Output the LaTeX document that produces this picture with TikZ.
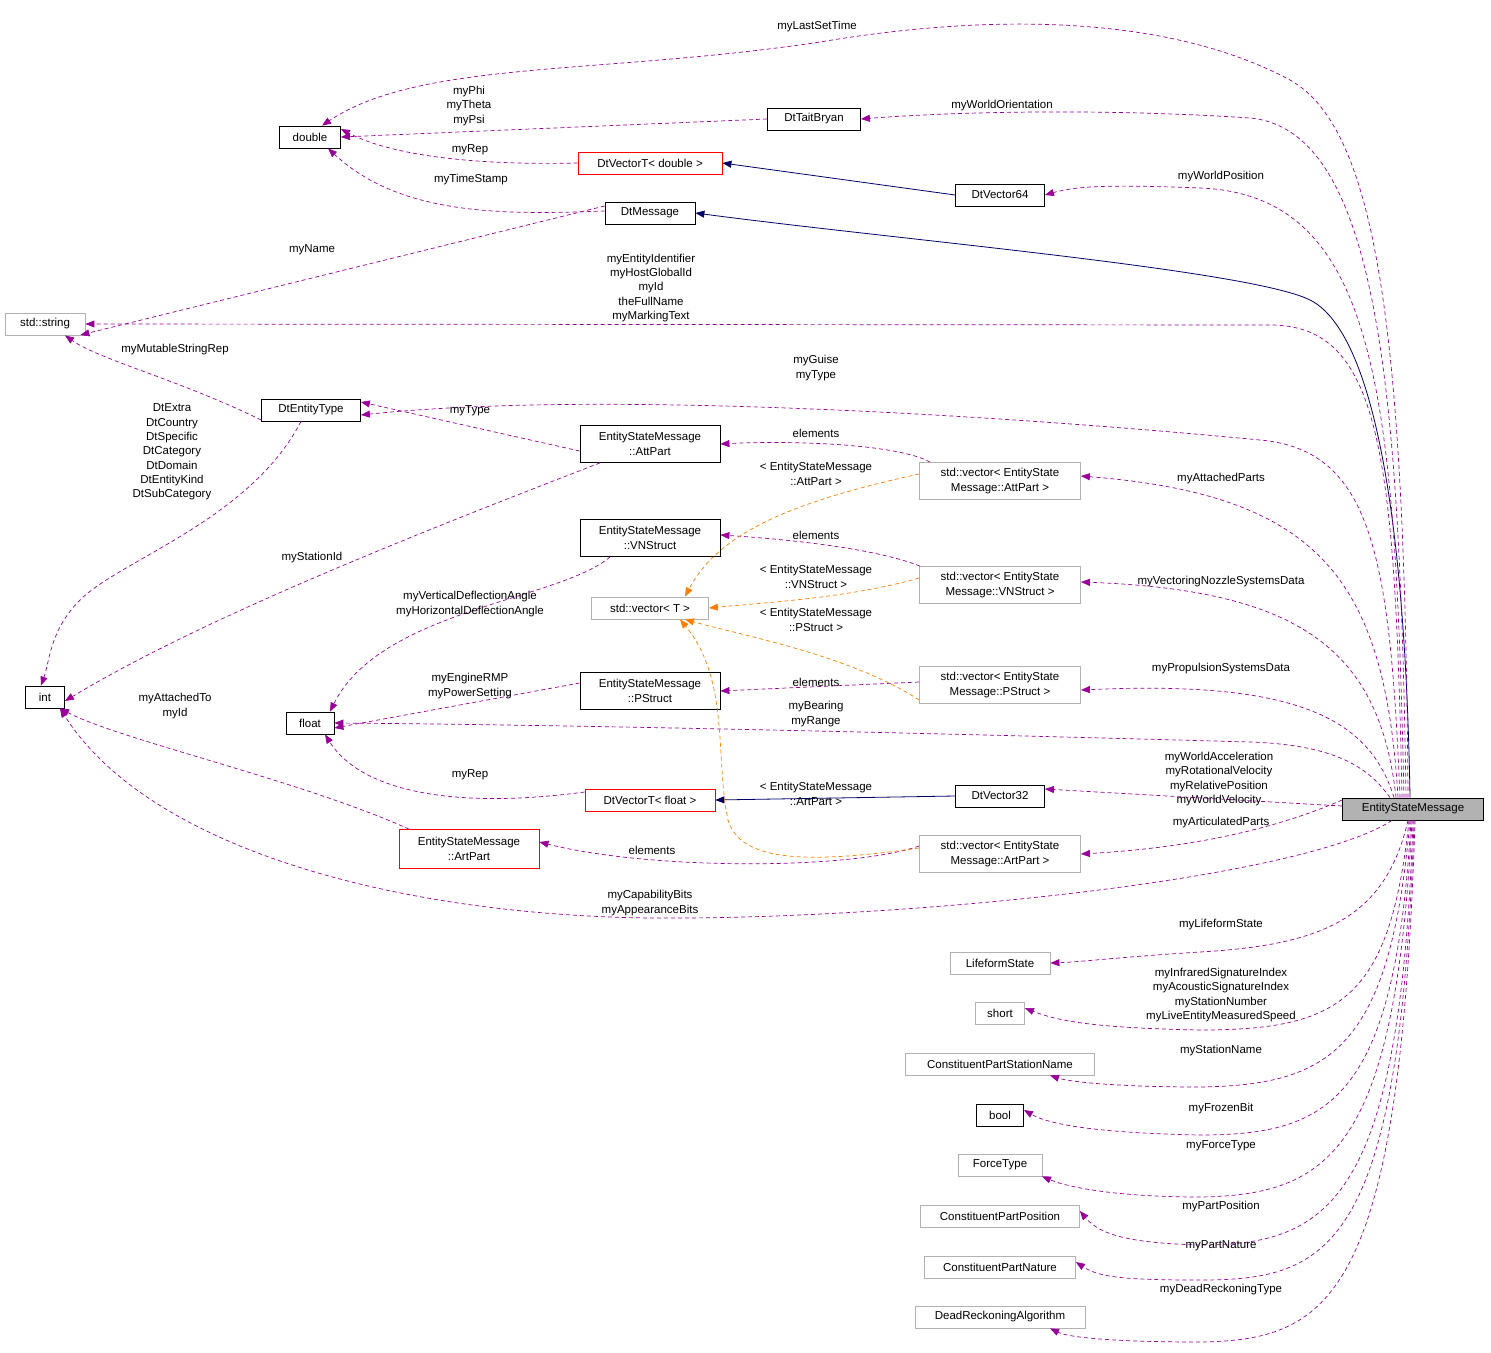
\documentclass[tikz,border=0pt]{standalone}
\usepackage{fontspec}
\setmainfont{Liberation Sans}
\usetikzlibrary{arrows.meta}
\begin{document}
\begin{tikzpicture}[x=1pt,y=-1pt,
  every node/.style={font=\fontsize{11.5}{14.3}\selectfont},
  bx/.style={draw=black,rectangle,minimum height=22pt,inner sep=2pt,align=center,line width=0.8pt},
  gb/.style={bx,draw=gray!60},
  rb/.style={bx,draw=red},
  lb/.style={align=center,inner sep=0pt},
  tip/.style={-{Triangle[length=9pt,width=7pt]}},
  pe/.style={tip,dashed,draw=violet!80!magenta,color=violet!80!magenta,line width=0.7pt,dash pattern=on 4pt off 3pt},
  oe/.style={tip,dashed,draw=orange,color=orange,line width=0.7pt,dash pattern=on 4pt off 3pt},
  ne/.style={tip,draw=blue!40!black,color=blue!40!black,line width=0.8pt}]
\useasboundingbox (0,0) rectangle (1491,1352);
% nodes
\node[bx,minimum width=61pt] (double) at (310,137) {double};
\node[bx,minimum width=93pt] (tait) at (814,119) {DtTaitBryan};
\node[rb,minimum width=144pt] (vtd) at (650,163) {DtVectorT< double >};
\node[bx,minimum width=89pt] (v64) at (1000,195) {DtVector64};
\node[bx,minimum width=90pt] (msg) at (650,213) {DtMessage};
\node[gb,minimum width=80pt] (str) at (45,324) {std::string};
\node[bx,minimum width=99pt] (et) at (311,410) {DtEntityType};
\node[bx,minimum width=140pt,minimum height=37pt] (att) at (650,444) {EntityStateMessage\\::AttPart};
\node[gb,minimum width=161pt,minimum height=37pt] (vatt) at (1000,481) {std::vector< EntityState\\Message::AttPart >};
\node[bx,minimum width=140pt,minimum height=37pt] (vn) at (650,538) {EntityStateMessage\\::VNStruct};
\node[gb,minimum width=117pt] (vt) at (650,608) {std::vector< T >};
\node[gb,minimum width=161pt,minimum height=37pt] (vvn) at (1000,585) {std::vector< EntityState\\Message::VNStruct >};
\node[bx,minimum width=39pt] (int) at (45,697) {int};
\node[bx,minimum width=48pt] (float) at (310,723) {float};
\node[bx,minimum width=140pt,minimum height=37pt] (ps) at (650,691) {EntityStateMessage\\::PStruct};
\node[gb,minimum width=161pt,minimum height=37pt] (vps) at (1000,685) {std::vector< EntityState\\Message::PStruct >};
\node[bx,minimum width=89pt] (v32) at (1000,796) {DtVector32};
\node[rb,minimum width=130pt] (vtf) at (650,800) {DtVectorT< float >};
\node[rb,minimum width=140pt,minimum height=39pt] (art) at (469,849) {EntityStateMessage\\::ArtPart};
\node[gb,minimum width=161pt,minimum height=37pt] (vart) at (1000,854) {std::vector< EntityState\\Message::ArtPart >};
\node[bx,fill=gray!60,minimum width=141pt] (esm) at (1413,809) {EntityStateMessage};
\node[gb,minimum width=100pt] (lf) at (1000,963) {LifeformState};
\node[gb,minimum width=49pt] (short) at (1000,1013) {short};
\node[gb,minimum width=189pt] (cpsn) at (1000,1064) {ConstituentPartStationName};
\node[bx,minimum width=47pt] (bool) at (1000,1115) {bool};
\node[gb,minimum width=84pt] (ft) at (1000,1165) {ForceType};
\node[gb,minimum width=159pt] (cpp) at (1000,1216) {ConstituentPartPosition};
\node[gb,minimum width=151pt] (cpn) at (1000,1267) {ConstituentPartNature};
\node[gb,minimum width=170pt] (dra) at (1000,1317) {DeadReckoningAlgorithm};
% inheritance
\draw[ne] ([xshift=-3pt]esm.north) .. controls (1405,500) and (1370,330) .. (1310,300) .. controls (1250,270) and (900,240) .. (msg.east);
\draw[ne] (v64.west) -- (vtd.east);
\draw[ne] (v32.west) -- (vtf.east);
% ESM members
\draw[pe] ([xshift=-5pt]esm.north) .. controls (1405,350) and (1380,130) .. (1290,80) .. controls (1150,5) and (950,20) .. (820,42) .. controls (600,75) and (420,60) .. ([xshift=12pt]double.north);
\draw[pe] ([xshift=-7pt]esm.north) .. controls (1400,400) and (1380,130) .. (1250,118) .. controls (1100,108) and (950,112) .. (tait.east);
\draw[pe] ([xshift=-9pt]esm.north) .. controls (1395,400) and (1380,195) .. (1200,188) .. controls (1120,185) and (1080,185) .. (v64.east);
\draw[pe] ([xshift=-11pt]esm.north) .. controls (1395,450) and (1380,325) .. (1270,325) -- (str.east);
\draw[pe] ([xshift=-13pt]esm.north) .. controls (1390,550) and (1370,450) .. (1260,440) .. controls (1000,415) and (600,390) .. ([yshift=-5pt]et.east);
\draw[pe] ([xshift=-15pt]esm.north) .. controls (1385,580) and (1320,495) .. ([yshift=5pt]vatt.east);
\draw[pe] ([xshift=-17pt]esm.north) .. controls (1380,650) and (1300,590) .. ([yshift=3pt]vvn.east);
\draw[pe] ([xshift=-19pt]esm.north) .. controls (1370,720) and (1300,680) .. ([yshift=-5pt]vps.east);
\draw[pe] ([xshift=-23pt]esm.north) .. controls (1370,770) and (1340,745) .. (1250,742) .. controls (1000,735) and (600,725) .. (float.east);
\draw[pe] ([yshift=3pt]esm.west) -- ([yshift=7pt]v32.east);
\draw[pe] ([yshift=9pt]esm.west) .. controls (1250,840) and (1150,850) .. (vart.east);
\draw[pe] ([xshift=-21pt]esm.south) .. controls (1300,880) and (900,920) .. (650,918) .. controls (400,915) and (150,850) .. ([xshift=15pt]int.south);
\draw[pe] ([xshift=-5pt]esm.south) .. controls (1385,920) and (1320,945) .. (1200,952) .. controls (1120,957) and (1080,962) .. (lf.east);
\draw[pe] ([xshift=-4pt]esm.south) .. controls (1390,1000) and (1340,1030) .. (1200,1030) .. controls (1100,1028) and (1060,1022) .. ([yshift=5pt]short.east);
\draw[pe] ([xshift=-3pt]esm.south) .. controls (1390,1050) and (1330,1085) .. (1200,1087) .. controls (1120,1087) and (1070,1082) .. ([xshift=50pt]cpsn.south);
\draw[pe] ([xshift=-2pt]esm.south) .. controls (1395,1100) and (1330,1135) .. (1200,1135) .. controls (1100,1133) and (1050,1125) .. ([yshift=5pt]bool.east);
\draw[pe] ([xshift=-1pt]esm.south) .. controls (1395,1150) and (1330,1195) .. (1200,1197) .. controls (1120,1197) and (1070,1188) .. ([xshift=42pt]ft.south);
\draw[pe] (esm.south) .. controls (1400,1200) and (1330,1245) .. (1200,1245) .. controls (1130,1243) and (1100,1235) .. ([yshift=5pt]cpp.east);
\draw[pe] ([xshift=1pt]esm.south) .. controls (1400,1250) and (1330,1280) .. (1200,1280) .. controls (1130,1280) and (1100,1278) .. ([yshift=5pt]cpn.east);
\draw[pe] ([xshift=2pt]esm.south) .. controls (1400,1300) and (1330,1340) .. (1200,1342) .. controls (1120,1342) and (1070,1338) .. ([xshift=50pt]dra.south);
% other members
\draw[pe] (tait.west) -- (double.east);
\draw[pe] (vtd.west) .. controls (500,165) and (400,160) .. ([yshift=8pt]double.east);
\draw[pe] ([yshift=2pt]msg.west) .. controls (500,215) and (400,215) .. ([xshift=18pt]double.south);
\draw[pe] ([yshift=7pt]msg.west) -- ([yshift=-11pt,xshift=-5pt]str.east);
\draw[pe] ([yshift=-10pt]et.west) .. controls (180,380) and (100,360) .. ([xshift=20pt]str.south);
\draw[pe] ([xshift=-10pt]et.south) .. controls (250,520) and (120,560) .. (80,600) .. controls (50,630) and (50,660) .. ([xshift=-4pt]int.north);
\draw[pe] ([yshift=-7pt]att.west) -- ([yshift=8pt]et.east);
\draw[pe] ([xshift=-50pt]att.south) .. controls (400,540) and (200,620) .. ([yshift=-4pt]int.east);
\draw[pe] ([xshift=-70pt]vatt.north) .. controls (900,445) and (800,440) .. (att.east);
\draw[pe] ([xshift=-80pt]vvn.north) .. controls (880,550) and (800,540) .. ([yshift=3pt]vn.east);
\draw[pe] ([xshift=-40pt]vn.south) .. controls (560,600) and (380,610) .. ([xshift=20pt]float.north);
\draw[pe] ([yshift=8pt]ps.west) -- ([yshift=-5pt]float.east);
\draw[pe] ([yshift=3pt]vps.west) -- (ps.east);
\draw[pe] ([yshift=8pt]vtf.west) .. controls (450,810) and (360,790) .. ([xshift=15pt]float.south);
\draw[pe] ([xshift=-60pt]art.north) .. controls (300,780) and (120,740) .. ([xshift=15pt]int.south);
\draw[pe] ([yshift=8pt]vart.west) .. controls (850,870) and (650,870) .. ([yshift=7pt]art.east);
% templates
\draw[oe] ([yshift=7pt]vatt.west) .. controls (800,500) and (720,530) .. ([xshift=35pt]vt.north);
\draw[oe] ([yshift=7pt]vvn.west) .. controls (850,598) and (760,603) .. (vt.east);
\draw[oe] ([yshift=-15pt]vps.west) .. controls (850,655) and (740,635) .. ([xshift=35pt]vt.south);
\draw[oe] ([yshift=6pt]vart.west) .. controls (800,865) and (740,860) .. (728,820) .. controls (715,760) and (730,680) .. ([xshift=30pt]vt.south);
% labels
\node[lb] (l1) at (817,27) {myLastSetTime};
\node[lb] (l2) at (1002,106) {myWorldOrientation};
\node[lb] (l3) at (1221,177) {myWorldPosition};
\node[lb] (l4) at (651,288) {myEntityIdentifier\\myHostGlobalId\\myId\\theFullName\\myMarkingText};
\node[lb] (l5) at (816,368) {myGuise\\myType};
\node[lb] (l6) at (1221,479) {myAttachedParts};
\node[lb] (l7) at (1221,582) {myVectoringNozzleSystemsData};
\node[lb] (l8) at (1221,669) {myPropulsionSystemsData};
\node[lb] (l9) at (816,714) {myBearing\\myRange};
\node[lb] (l10) at (1219,779) {myWorldAcceleration\\myRotationalVelocity\\myRelativePosition\\myWorldVelocity};
\node[lb] (l11) at (1221,823) {myArticulatedParts};
\node[lb] (l12) at (650,903) {myCapabilityBits\\myAppearanceBits};
\node[lb] (l13) at (1221,925) {myLifeformState};
\node[lb] (l14) at (1221,995) {myInfraredSignatureIndex\\myAcousticSignatureIndex\\myStationNumber\\myLiveEntityMeasuredSpeed};
\node[lb] (l15) at (1221,1051) {myStationName};
\node[lb] (l16) at (1221,1109) {myFrozenBit};
\node[lb] (l17) at (1221,1146) {myForceType};
\node[lb] (l18) at (1221,1207) {myPartPosition};
\node[lb] (l19) at (1221,1246) {myPartNature};
\node[lb] (l20) at (1221,1290) {myDeadReckoningType};
\node[lb] (l21) at (469,106) {myPhi\\myTheta\\myPsi};
\node[lb] (l22) at (470,150) {myRep};
\node[lb] (l23) at (471,180) {myTimeStamp};
\node[lb] (l24) at (312,250) {myName};
\node[lb] (l25) at (175,350) {myMutableStringRep};
\node[lb] (l26) at (172,452) {DtExtra\\DtCountry\\DtSpecific\\DtCategory\\DtDomain\\DtEntityKind\\DtSubCategory};
\node[lb] (l27) at (470,411) {myType};
\node[lb] (l28) at (312,558) {myStationId};
\node[lb] (l29) at (816,433) {elements};
\node[lb] (l30) at (816,535) {elements};
\node[lb] (l31) at (470,604) {myVerticalDeflectionAngle\\myHorizontalDeflectionAngle};
\node[lb] (l32) at (470,686) {myEngineRMP\\myPowerSetting};
\node[lb] (l33) at (816,682) {elements};
\node[lb] (l34) at (470,775) {myRep};
\node[lb] (l35) at (175,706) {myAttachedTo\\myId};
\node[lb] (l36) at (652,850) {elements};
\node[lb] (l37) at (816,474) {< EntityStateMessage\\::AttPart >};
\node[lb] (l38) at (816,577) {< EntityStateMessage\\::VNStruct >};
\node[lb] (l39) at (816,620) {< EntityStateMessage\\::PStruct >};
\node[lb] (l40) at (816,794) {< EntityStateMessage\\::ArtPart >};
\end{tikzpicture}
\end{document}
